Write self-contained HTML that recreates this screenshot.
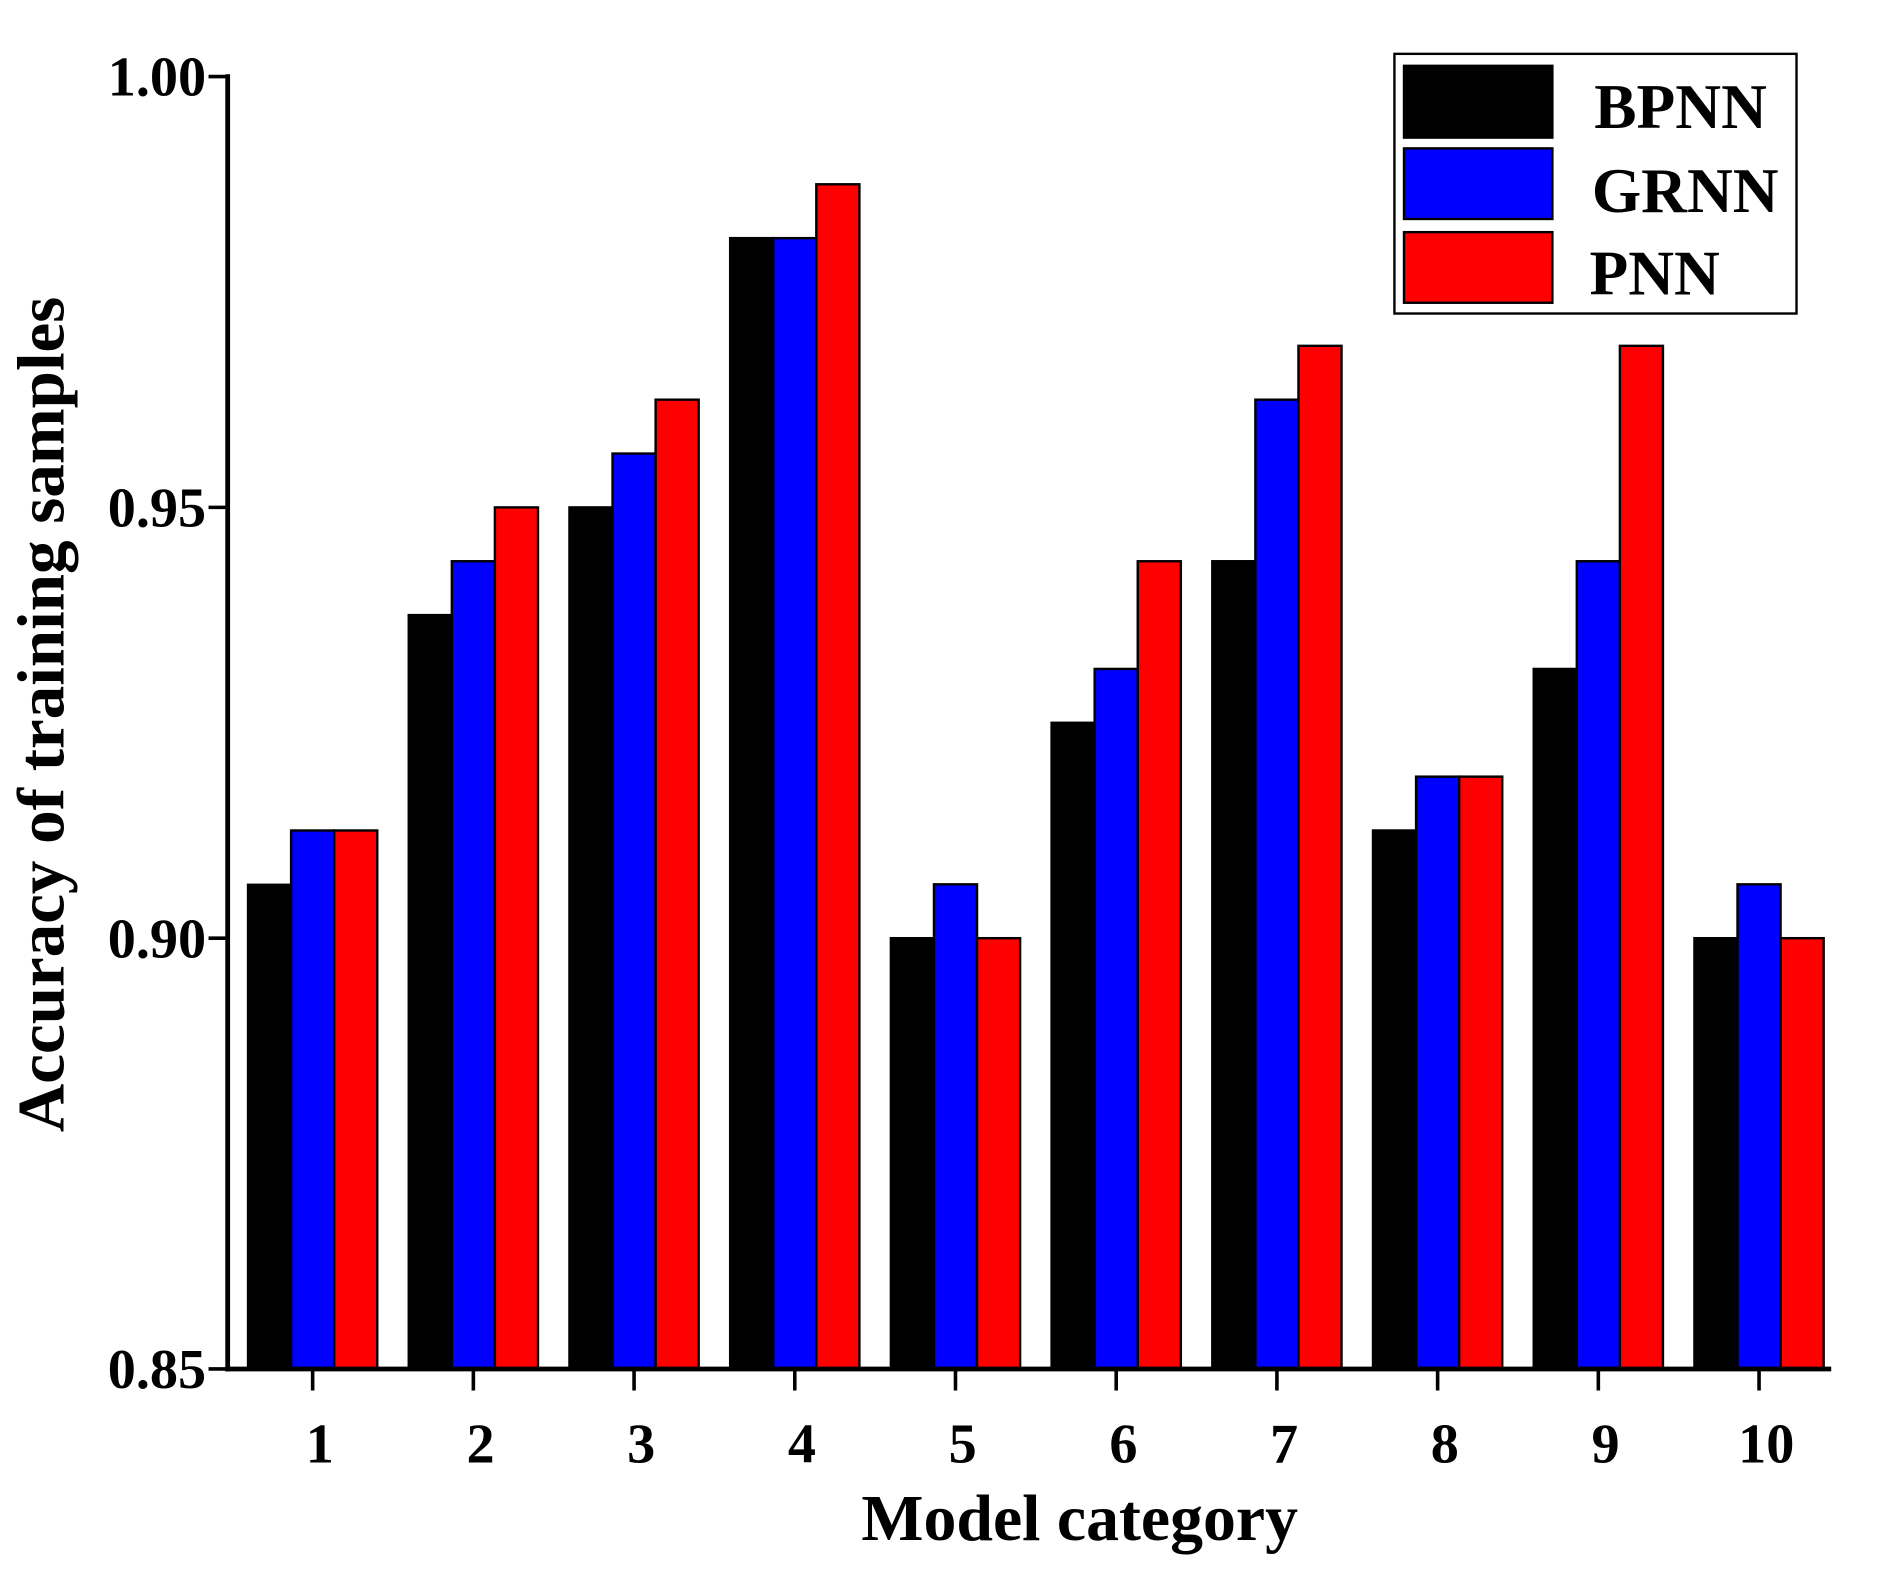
<!DOCTYPE html>
<html><head><meta charset="utf-8"><style>
html,body{margin:0;padding:0;background:#fff}
svg{display:block}
text{font-family:"Liberation Serif",serif;font-weight:bold;fill:#000}
</style></head><body>
<svg id="chart" width="1877" height="1576" viewBox="0 0 1568 1317" xmlns="http://www.w3.org/2000/svg">
<g id="bars"></g>
<g id="axes"></g>
<text x="902" y="1287" font-size="55" text-anchor="middle">Model category</text>
<text transform="translate(53,597) rotate(-90)" font-size="56" text-anchor="middle">Accuracy of training samples</text>
<g>
<rect x="1165" y="45" width="336" height="217" fill="#fff" stroke="#000" stroke-width="2"/>
<rect x="1173" y="55" width="124" height="60" fill="#000" stroke="#000" stroke-width="2"/>
<rect x="1173" y="124" width="124" height="59" fill="#0000ff" stroke="#000" stroke-width="2"/>
<rect x="1173" y="194" width="124" height="59" fill="#ff0000" stroke="#000" stroke-width="2"/>
<text x="1332" y="107" font-size="53">BPNN</text>
<text x="1330" y="177" font-size="53">GRNN</text>
<text x="1328" y="246" font-size="53">PNN</text>
</g>
</svg>
<script>
const categories = ["1","2","3","4","5","6","7","8","9","10"];
const bpnn = [0.9062,0.9375,0.95,0.98125,0.90,0.925,0.94375,0.9125,0.93125,0.90];
const grnn = [0.9125,0.94375,0.95625,0.98125,0.90625,0.93125,0.9625,0.91875,0.94375,0.90625];
const pnn  = [0.9125,0.95,0.9625,0.9875,0.90,0.94375,0.96875,0.91875,0.96875,0.90];
const yTicks = [0.85,0.90,0.95,1.00];
const yTickLabels = ["0.85","0.90","0.95","1.00"];
const NS="http://www.w3.org/2000/svg";
const y0=1144,y1=64,vmin=0.85,vmax=1.00;
const yScale=v=>y0-(v-vmin)/(vmax-vmin)*(y0-y1);
const axL=190,axR=1530;
const gStart=207,gStep=134.3,bw=36;
const xCenter=i=>gStart+gStep*i+bw*1.5;
const bars=document.getElementById('bars'),axes=document.getElementById('axes');
function mk(tag,attrs,parent){const e=document.createElementNS(NS,tag);for(const k in attrs)e.setAttribute(k,attrs[k]);parent.appendChild(e);return e;}
const series=[[bpnn,"#000000","bpnn"],[grnn,"#0000ff","grnn"],[pnn,"#ff0000","pnn"]];
categories.forEach((c,i)=>{
  series.forEach((s,j)=>{
    const v=s[0][i],y=yScale(v);
    const r=mk('rect',{x:gStart+gStep*i+bw*j,y:y,width:bw,height:y0-y,fill:s[1],stroke:'#000','stroke-width':2},bars);
    
    
  });
  const cx=xCenter(i);
  const t=mk('line',{x1:cx,x2:cx,y1:y0,y2:y0+18,stroke:'#000','stroke-width':3},axes);
  
  
  const lb=mk('text',{x:cx+6,y:1222,'font-size':47,'text-anchor':'middle'},axes);
  lb.textContent=c;
  
  
});
yTicks.forEach((v,i)=>{
  const y=yScale(v);
  const t=mk('line',{x1:axL-16,x2:axL,y1:y,y2:y,stroke:'#000','stroke-width':3},axes);
  
  
  const lb=mk('text',{x:172,y:y+16,'font-size':47,'text-anchor':'end'},axes);
  lb.textContent=yTickLabels[i];
  
  
});
const ya=mk('line',{x1:axL,x2:axL,y1:y1-2,y2:y0+2,stroke:'#000','stroke-width':4},axes);


const xa=mk('line',{x1:axL-2,x2:axR,y1:y0,y2:y0,stroke:'#000','stroke-width':4},axes);


</script>
</body></html>
